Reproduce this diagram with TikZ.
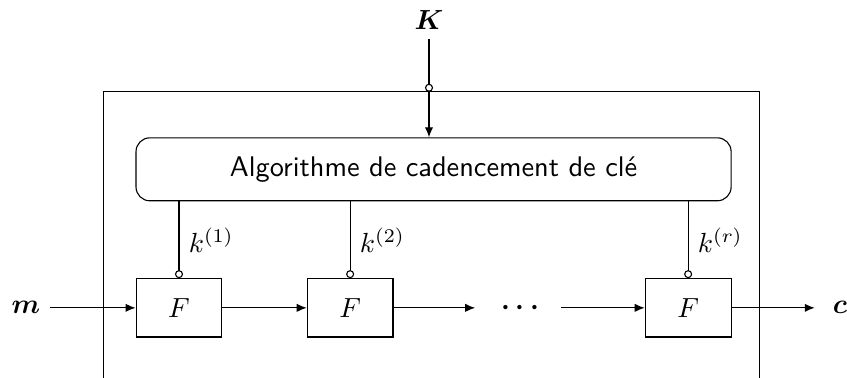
\documentclass[tikz,border=0pt]{standalone}
\usepackage{amsmath,amssymb}
\usepackage{tikz}
\usetikzlibrary{positioning,arrows.meta}

\begin{document}
\begin{tikzpicture}[
node distance=1.07cm,
font=\fontsize{10.25pt}{12.3pt}\selectfont,
fbox/.style={draw, minimum width=1.09cm, minimum height=0.74cm, inner sep=0pt},
keybox/.style={draw, rounded corners=5pt, minimum width=7.56cm, minimum height=0.80cm, font=\fontsize{10.25pt}{12.3pt}\sffamily},
arrow/.style={-{Latex[length=3.6pt,width=3pt]}},
port/.style={-{Circle[open,length=2.9pt]}}
]
\clip (0,0) rectangle (10.76,4.80);
% frame of the cipher, open below
\draw (1.32,-0.5) -- (1.32,3.634) -- (9.644,3.634) -- (9.644,-0.5);
\node[keybox] (alg) at (5.508,2.649) {Algorithme de cadencement de clé};
\node (K) at (5.45,4.55) {$\boldsymbol{K}$};
\coordinate (Kin) at (5.45,3.634);
\draw[port] (K) -- (Kin);
\draw[arrow] (Kin) -- (Kin |- alg.north);
% rounds
\node[fbox] (F1) at (2.274,0.889) {$F$};
\node[fbox, right=of F1] (F2) {$F$};
\node (dots) at (6.645,0.889) {$\boldsymbol{\cdots}$};
\node[fbox] (F3) at (8.742,0.889) {$F$};
\coordinate (d1) at (6.036,0.889);
\coordinate (d2) at (7.128,0.889);
\node (m) at (0.33,0.889) {$\boldsymbol{m}$};
\node (c) at (10.67,0.889) {$\boldsymbol{c}$};
\draw[arrow] (m) -- (F1);
\draw[arrow] (F1) -- (F2);
\draw[arrow] (F2) -- (d1);
\draw[arrow] (d2) -- (F3);
\draw[arrow, shorten >=3pt] (F3) -- (c);
% round keys
\draw[port] (alg.south -| F1) -- (F1.north) node[midway, right] {$k^{(1)}$};
\draw[port] (alg.south -| F2) -- (F2.north) node[midway, right] {$k^{(2)}$};
\draw[port] (alg.south -| F3) -- (F3.north) node[midway, right] {$k^{(r)}$};
\end{tikzpicture}
\end{document}
